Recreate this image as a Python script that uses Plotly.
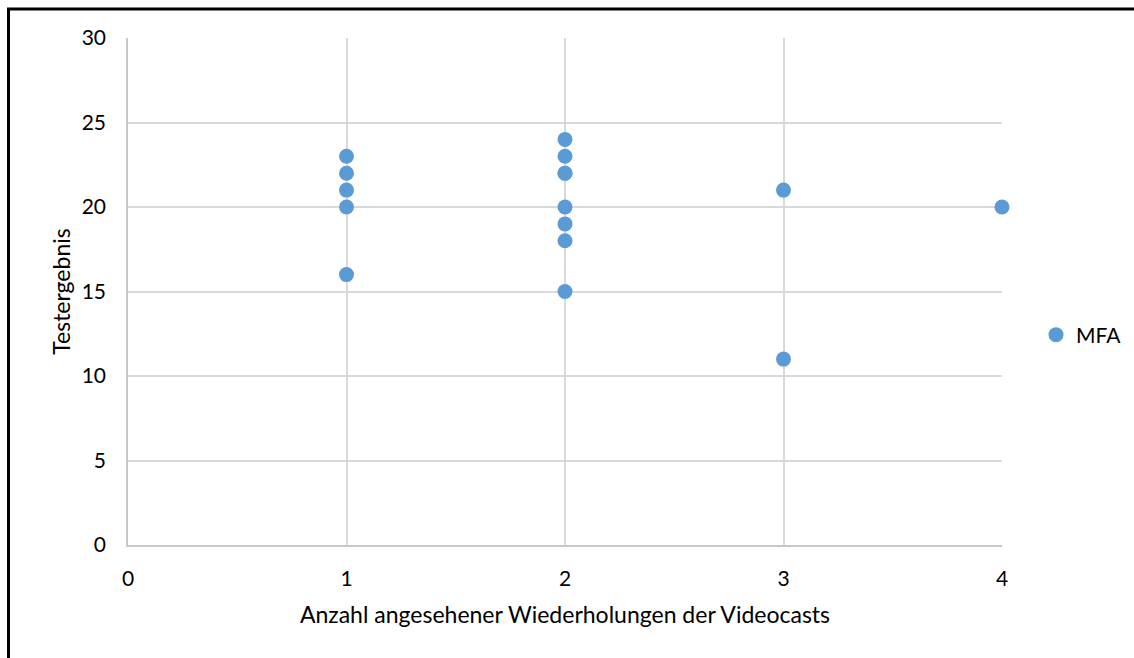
import plotly.graph_objects as go

# Anzahl angesehener Wiederholungen und zugehörige Testergebnisse (MFA)
wiederholungen = [1, 1, 1, 1, 1, 2, 2, 2, 2, 2, 2, 2, 2, 3, 3, 4]
testergebnis = [23, 22, 21, 20, 16, 24, 23, 22, 22, 20, 19, 18, 15, 21, 11, 20]
serie = "MFA"

x_ticks = [0, 1, 2, 3, 4]
y_ticks = [0, 5, 10, 15, 20, 25, 30]

FONT = "Lato, 'Open Sans', sans-serif"
GRID = "#D9D9D9"

fig = go.Figure()
fig.add_trace(go.Scatter(
    x=wiederholungen,
    y=testergebnis,
    mode="markers",
    name=serie,
    cliponaxis=False,
    marker=dict(color="#5B9BD5", size=15, line=dict(width=0)),
    showlegend=True,
))

W, H = 1134, 658
L, R, T, B = 128, 132, 38, 113
pw, ph = W - L - R, H - T - B

def px_x(x):
    return (x - L) / pw

def px_y(y):
    return (H - B - y) / ph

fig.update_layout(
    width=W, height=H,
    margin=dict(l=L, r=R, t=T, b=B, autoexpand=False),
    paper_bgcolor="white",
    plot_bgcolor="white",
    font=dict(family=FONT, size=21, color="#000000"),
    showlegend=True,
    legend=dict(
        x=px_x(1036), y=px_y(335), xanchor="left", yanchor="middle",
        font=dict(size=21, color="#000000"),
        itemwidth=30, bgcolor="rgba(0,0,0,0)",
    ),
    xaxis=dict(
        range=[0, 4], tickvals=x_ticks, ticktext=[str(v) for v in x_ticks],
        showgrid=True, gridcolor=GRID, gridwidth=1.5,
        zeroline=False, showline=True, linecolor="#C8C8C8", linewidth=1.5,
        ticks="outside", ticklen=14, tickcolor="rgba(0,0,0,0)",
        tickfont=dict(size=21),
        title=dict(text="Anzahl angesehener Wiederholungen der Videocasts",
                   font=dict(size=23), standoff=18),
    ),
    yaxis=dict(
        range=[0, 30], tickvals=y_ticks, ticktext=[str(v) for v in y_ticks],
        showgrid=True, gridcolor=GRID, gridwidth=1.5,
        zeroline=False, showline=True, linecolor="#C8C8C8", linewidth=1.5,
        ticks="outside", ticklen=16, tickcolor="rgba(0,0,0,0)",
        tickfont=dict(size=21),
        title=dict(text="Testergebnis", font=dict(size=23), standoff=5),
    ),
    shapes=[dict(
        type="rect", xref="paper", yref="paper",
        x0=px_x(8.5), x1=px_x(1140), y0=px_y(700), y1=px_y(9),
        line=dict(color="black", width=3), fillcolor="rgba(0,0,0,0)",
        layer="above",
    )],
)

fig.write_html("out.html")
